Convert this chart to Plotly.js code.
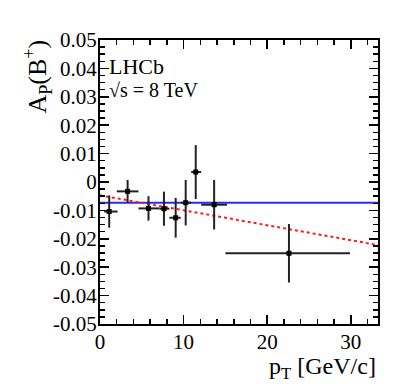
<!DOCTYPE html>
<html>
<head>
<meta charset="utf-8">
<script src="https://cdn.plot.ly/plotly-3.0.1.min.js"></script>
<style>html,body{margin:0;padding:0;background:#fff;}#plot{width:399px;height:388px;}</style>
</head>
<body>
<div id="plot"></div>
<script>
// Data points (bin centres, asymmetric x extents, values, y errors)
var ptX      = [1.1, 3.3, 5.8, 7.65, 9.05, 10.25, 11.45, 13.65, 22.6];
var ptXlow   = [0.5, 2.0, 4.6, 7.1, 8.3, 9.65, 10.9, 12.1, 15.0];
var ptXhigh  = [2.1, 4.6, 7.1, 8.3, 9.65, 10.9, 12.1, 15.2, 29.9];
var ptY      = [-0.0104, -0.0033, -0.0093, -0.0094, -0.0126, -0.0073, 0.0035, -0.0080, -0.0251];
var ptYerr   = [0.0057, 0.0040, 0.0043, 0.0060, 0.0070, 0.0080, 0.0095, 0.0087, 0.0103];

// Constant fit (blue) and linear fit (red dotted)
var constX = [0, 33.25];
var constY = [-0.0073, -0.0073];
var linX   = [0, 33.25];
var linY   = [-0.0047, -0.0222];

// Tick labels
var yTickVals = [-0.05, -0.04, -0.03, -0.02, -0.01, 0, 0.01, 0.02, 0.03, 0.04, 0.05];
var yTickText = ["-0.05", "-0.04", "-0.03", "-0.02", "-0.01", "0", "0.01", "0.02", "0.03", "0.04", "0.05"];
var xTickVals = [0, 10, 20, 30];
var xTickText = ["0", "10", "20", "30"];

var errPlus = ptX.map(function (x, i) { return ptXhigh[i] - x; });
var errMinus = ptX.map(function (x, i) { return x - ptXlow[i]; });

var font = "'Liberation Serif', 'Times New Roman', serif";

var traces = [
  {
    x: constX, y: constY, mode: "lines", type: "scatter",
    line: {color: "#2a2aff", width: 2}, hoverinfo: "skip"
  },
  {
    x: linX, y: linY, mode: "lines", type: "scatter",
    line: {color: "#ff1a1a", width: 2, dash: "dot"}, hoverinfo: "skip"
  },
  {
    x: ptX, y: ptY, mode: "markers", type: "scatter",
    marker: {color: "#000", size: 5, symbol: "square"},
    error_x: {type: "data", symmetric: false, array: errPlus, arrayminus: errMinus, color: "#222", thickness: 2, width: 0},
    error_y: {type: "data", array: ptYerr, color: "#222", thickness: 2, width: 0}
  }
];

var layout = {
  width: 399, height: 388,
  margin: {l: 100, r: 21, t: 40, b: 64},
  paper_bgcolor: "#fff", plot_bgcolor: "#fff",
  font: {family: font, size: 21, color: "#000"},
  showlegend: false,
  xaxis: {
    showgrid: false, zeroline: false, showline: true, linecolor: "#000", linewidth: 2,
    mirror: "allticks", ticks: "inside", tickcolor: "#000", tickwidth: 1.5, ticklen: 9,
    tickfont: {family: font, size: 21, color: "#000"}, ticklabelstandoff: -2,
    range: [0, 33.25], tickmode: "array", tickvals: xTickVals, ticktext: xTickText,
    minor: {dtick: 2, ticks: "inside", ticklen: 5, tickcolor: "#000", tickwidth: 1.5}
  },
  yaxis: {
    showgrid: false, zeroline: false, showline: true, linecolor: "#000", linewidth: 2,
    mirror: "allticks", ticks: "inside", tickcolor: "#000", tickwidth: 1.5, ticklen: 9,
    tickfont: {family: font, size: 21, color: "#000"}, ticklabelstandoff: -3,
    range: [-0.05, 0.05], tickmode: "array", tickvals: yTickVals, ticktext: yTickText,
    minor: {dtick: 0.0025, ticks: "inside", ticklen: 5, tickcolor: "#000", tickwidth: 1.5}
  },
  annotations: [
    {xref: "paper", yref: "paper", x: -0.225, y: 1.01, xanchor: "center", yanchor: "top",
     textangle: -90, showarrow: false, text: "A<sub>P</sub>(B<sup>+</sup>)",
     font: {family: font, size: 26, color: "#000"}},
    {xref: "paper", yref: "paper", x: 1.0, y: -0.155, xanchor: "right", yanchor: "middle",
     showarrow: false, text: "p<sub>T</sub> [GeV/c]",
     font: {family: font, size: 24, color: "#000"}},
    {xref: "paper", yref: "paper", x: 0.025, y: 0.905, xanchor: "left", yanchor: "middle",
     showarrow: false, text: "LHCb", font: {family: font, size: 22, color: "#000"}},
    {xref: "paper", yref: "paper", x: 0.025, y: 0.825, xanchor: "left", yanchor: "middle",
     showarrow: false, text: "\u221As = 8 TeV", font: {family: font, size: 20, color: "#000"}}
  ]
};

Plotly.newPlot("plot", traces, layout, {displayModeBar: false, staticPlot: true});
</script>
</body>
</html>
